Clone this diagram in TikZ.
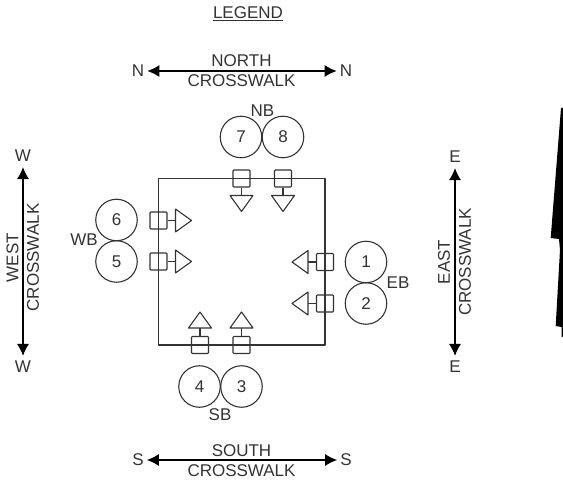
\documentclass[tikz,border=0pt]{standalone}
\usepackage{fontspec}
\setmainfont{Liberation Sans}
\usetikzlibrary{arrows.meta}
\definecolor{ink}{HTML}{333333}
\tikzset{
  lbl/.style={inner sep=0pt,text=ink,font=\fontsize{17}{19}\selectfont},
  ring/.style={circle,draw=ink,line width=1.1pt,minimum size=41.5pt,inner sep=0pt,text=ink,font=\fontsize{17}{19}\selectfont},
  sq/.style={rectangle,draw=ink,line width=1.1pt,minimum size=17pt,inner sep=0pt,rounded corners=0.8pt},
  wire/.style={draw=ink,line width=1.1pt,line join=round},
  walk/.style={draw=black,line width=1.2pt,shorten <=#1,shorten >=#1,{Latex[length=12pt,width=12pt]}-{Latex[length=12pt,width=12pt]}}
}
% name, x, y, rotation (0 = pointing down)
\newcommand{\sighd}[4]{%
  \begin{scope}[shift={(#2,#3)},rotate=#4]
    \node[sq,rotate=#4] (#1) at (0,0) {};
    \coordinate (#1b) at (0,17);
    \draw[wire] (#1) -- (#1b);
    \draw[wire] (-11.5,17) -- (11.5,17) -- (0,33) -- cycle;
  \end{scope}}
\begin{document}
\begin{tikzpicture}[x=1pt,y=-1pt]
\useasboundingbox (0,0) rectangle (563,481);
\node[lbl] (legend) at (248,14) {\underline{LEGEND}};
% box
\draw[wire] (158.5,178.5) rectangle (325,345);
% signals
\sighd{sa}{241.5}{178.5}{0}
\sighd{sb}{283}{178.5}{0}
\sighd{sc}{158.5}{220.5}{90}
\sighd{sd}{158.5}{261.5}{90}
\sighd{se}{325}{262}{-90}
\sighd{sf}{325}{303.5}{-90}
\sighd{sg}{200}{345}{180}
\sighd{sh}{241.5}{345}{180}
% rings
\node[ring] (r7) at (241,137) {7};
\node[ring] (r8) at (283,137) {8};
\node[ring] (r6) at (116.5,220) {6};
\node[ring] (r5) at (116.5,261.5) {5};
\node[ring] (r1) at (366,262) {1};
\node[ring] (r2) at (366,303.5) {2};
\node[ring] (r4) at (199.5,386.5) {4};
\node[ring] (r3) at (241.5,386.5) {3};
\node[lbl] (nb) at (262.5,110.5) {NB};
\node[lbl] (wb) at (84,240) {WB};
\node[lbl] (eb) at (398,283) {EB};
\node[lbl] (sbl) at (220,414.5) {SB};
% north
\node[lbl] (nl) at (138,71) {N};
\node[lbl] (nr) at (346,71) {N};
\node[lbl] at (241.5,61) {NORTH};
\node[lbl] at (241.5,81) {CROSSWALK};
% south
\node[lbl] (sl) at (138,460) {S};
\node[lbl] (sr) at (346,460) {S};
\node[lbl] at (241.5,450.5) {SOUTH};
\node[lbl] at (241.5,470.5) {CROSSWALK};
% west
\node[lbl] (wt) at (23,156) {W};
\node[lbl] (wbt) at (23,367) {W};
\node[lbl,rotate=90] at (12.5,257.5) {WEST};
\node[lbl,rotate=90] at (33,257.5) {CROSSWALK};
% east
\node[lbl] (et) at (455,157) {E};
\node[lbl] (ebt) at (455,367) {E};
\node[lbl,rotate=90] at (444,262) {EAST};
\node[lbl,rotate=90] at (465,262) {CROSSWALK};
\draw[walk=3pt] (nl) -- (nr);
\draw[walk=3pt] (sl) -- (sr);
\draw[walk=5pt] (wt) -- (wbt);
\draw[walk=5pt] (et) -- (ebt);
% black sliver
\fill[black] (561,108) -- (550.7,238) -- (559,239) -- (560,250) -- (555.7,326) -- (561.7,327) -- (561.7,337) -- (563,337) -- (563,108) -- cycle;
\end{tikzpicture}
\end{document}
